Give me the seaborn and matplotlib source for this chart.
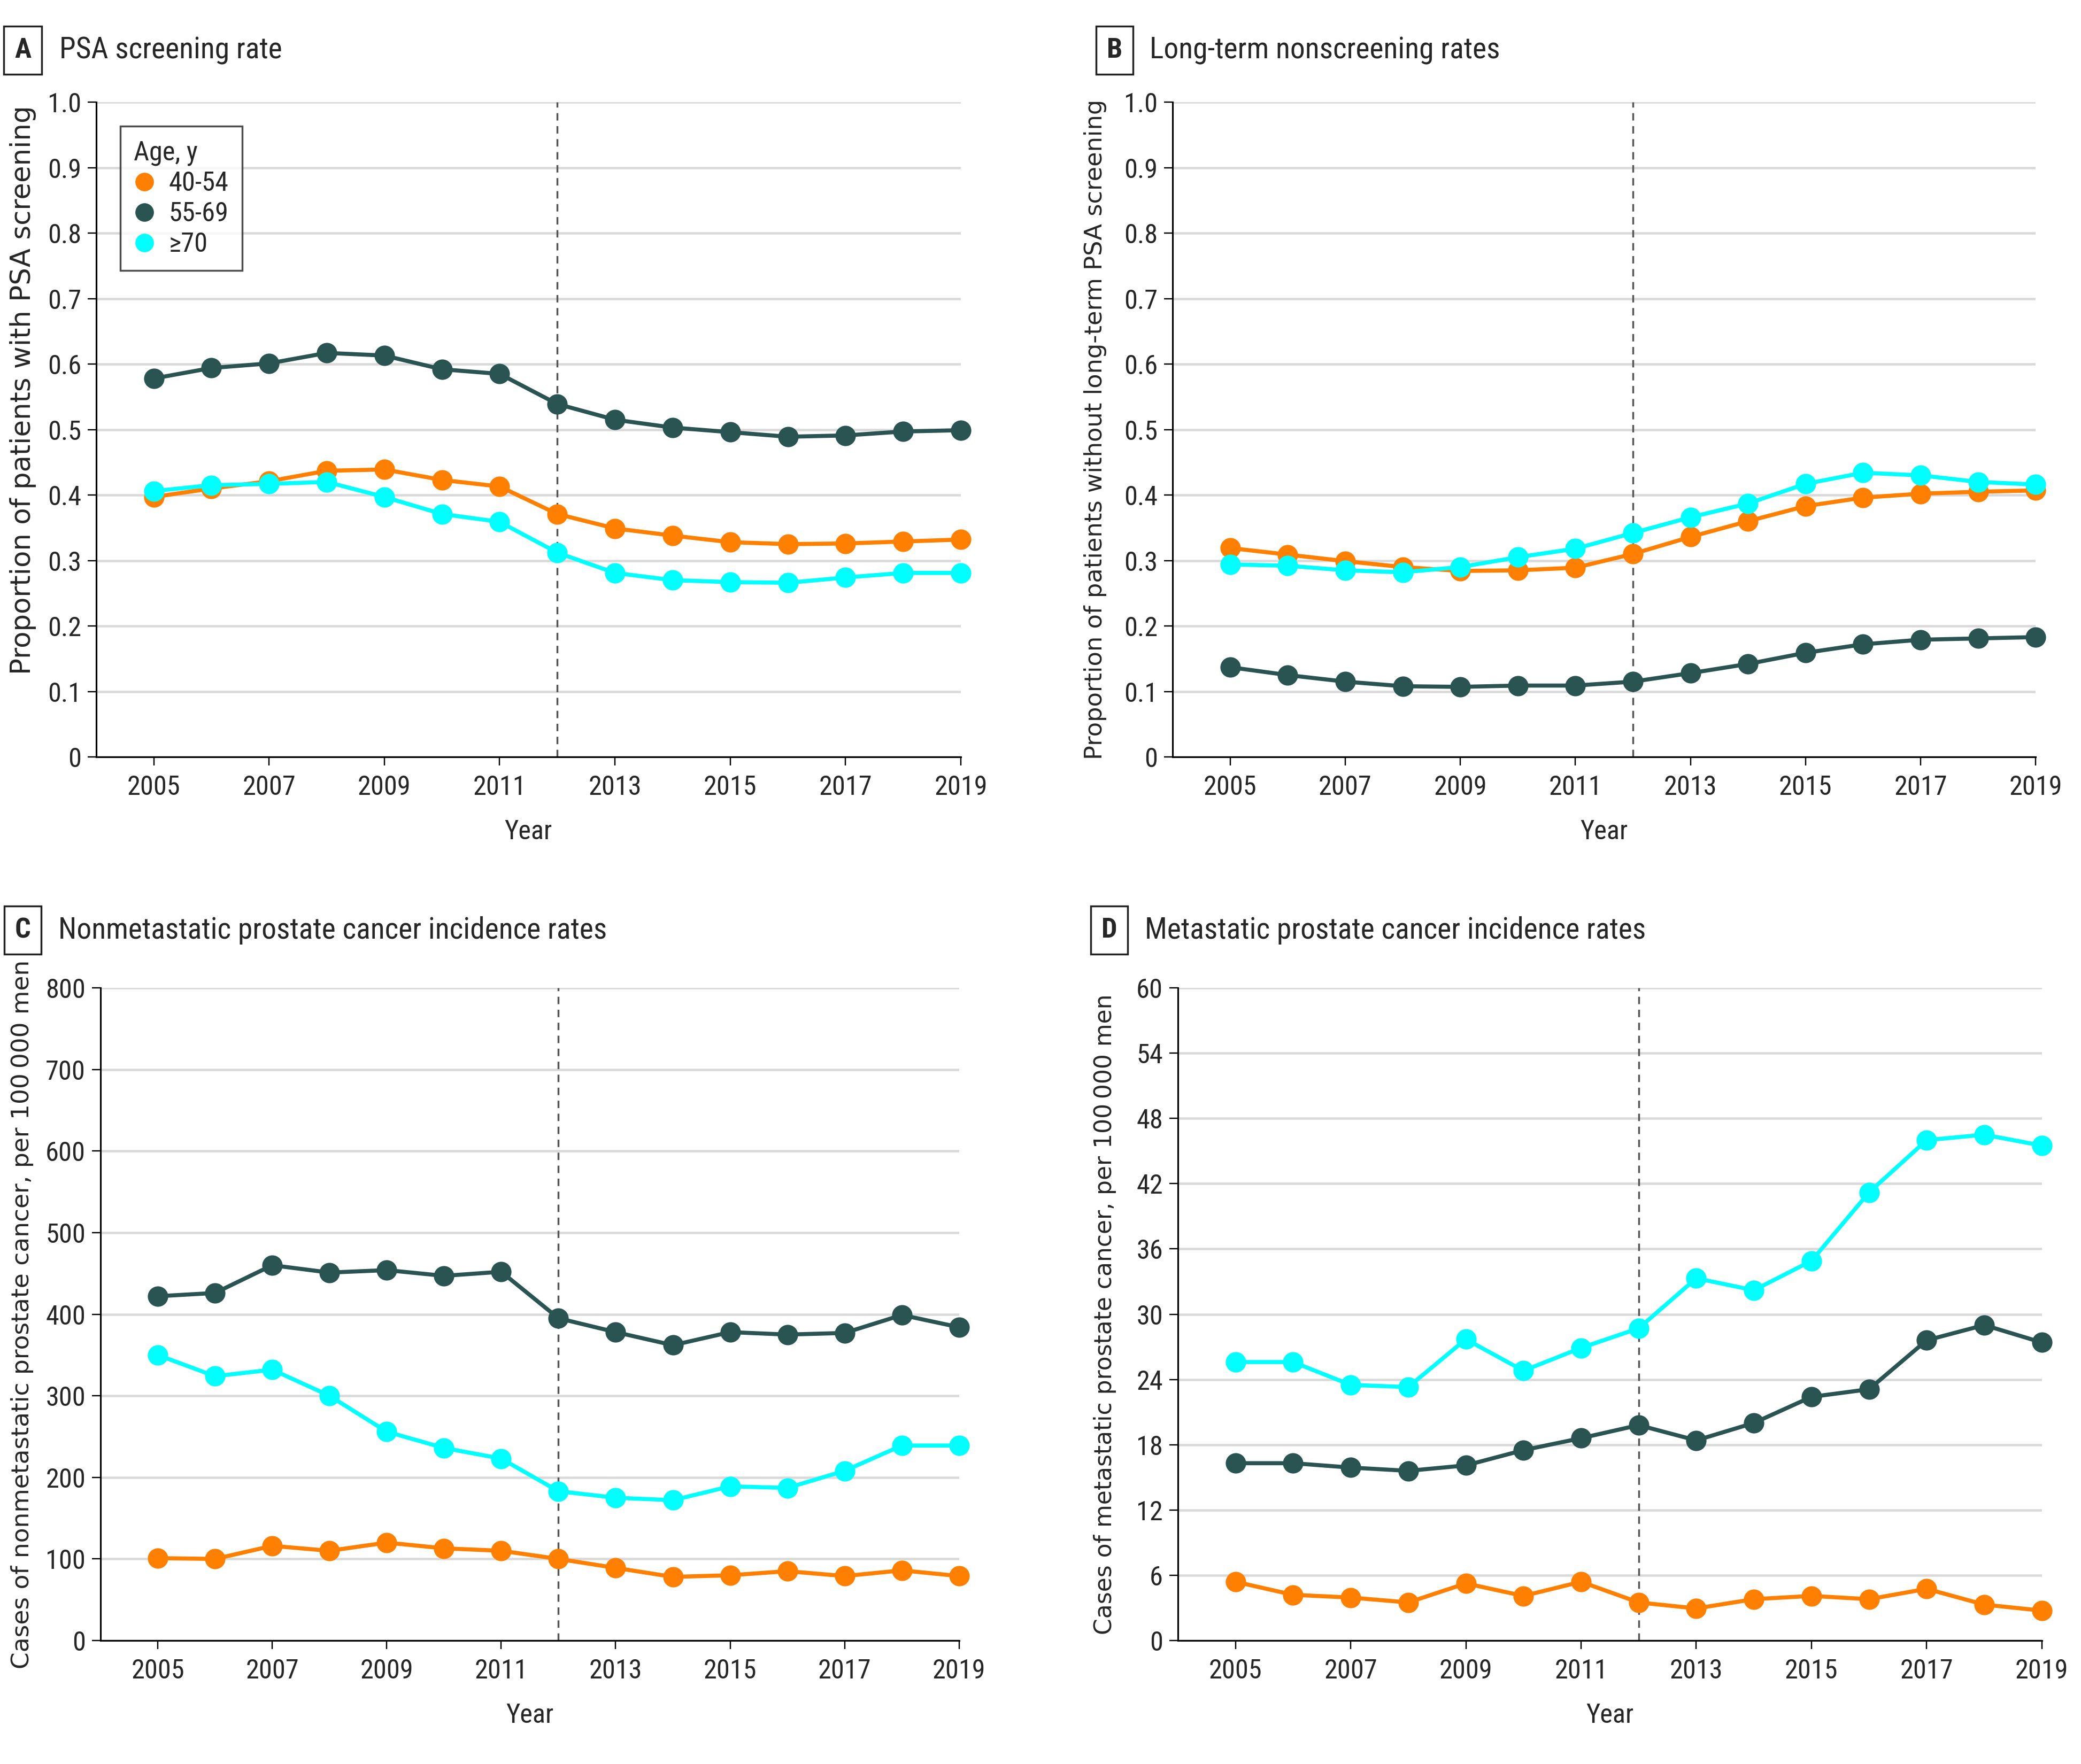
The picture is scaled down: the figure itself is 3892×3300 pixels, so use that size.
import numpy as np
import pandas as pd
import matplotlib
matplotlib.use('Agg')
import matplotlib.pyplot as plt
from matplotlib.lines import Line2D
import seaborn as sns

sns.set_theme(style='white')
plt.rcParams['font.family'] = ['Noto Sans Condensed', 'Roboto Condensed', 'Lato', 'DejaVu Sans']
plt.rcParams['font.stretch'] = 'condensed'

years = list(range(2005, 2020))
ages = ['40-54', '55-69', '≥70']
colors = {'40-54': '#ff8000', '55-69': '#2a5451', '≥70': '#00ffff'}

# A: PSA screening rate
psa_40 = [0.397, 0.410, 0.421, 0.437, 0.439, 0.423, 0.413, 0.371, 0.349, 0.338, 0.328, 0.325, 0.326, 0.329, 0.332]
psa_55 = [0.578, 0.594, 0.601, 0.617, 0.613, 0.592, 0.585, 0.539, 0.515, 0.503, 0.496, 0.489, 0.491, 0.497, 0.499]
psa_70 = [0.406, 0.415, 0.417, 0.420, 0.397, 0.371, 0.359, 0.312, 0.281, 0.270, 0.267, 0.266, 0.274, 0.281, 0.281]

# B: long-term nonscreening
non_40 = [0.319, 0.309, 0.299, 0.290, 0.284, 0.285, 0.289, 0.310, 0.336, 0.360, 0.383, 0.396, 0.402, 0.405, 0.407]
non_55 = [0.137, 0.125, 0.115, 0.108, 0.107, 0.109, 0.109, 0.115, 0.128, 0.142, 0.159, 0.172, 0.179, 0.181, 0.183]
non_70 = [0.294, 0.292, 0.285, 0.282, 0.290, 0.305, 0.318, 0.342, 0.366, 0.387, 0.417, 0.434, 0.430, 0.420, 0.416]

# C: nonmetastatic incidence per 100 000
nm_40 = [101, 100, 116, 110, 120, 113, 110, 100, 89, 78, 80, 85, 79, 86, 79]
nm_55 = [422, 426, 460, 451, 454, 447, 452, 395, 378, 362, 378, 375, 377, 399, 384]
nm_70 = [350, 324, 332, 300, 256, 236, 223, 183, 175, 172, 189, 187, 208, 239, 239]

# D: metastatic incidence per 100 000
m_40 = [5.4, 4.2, 3.95, 3.5, 5.25, 4.1, 5.4, 3.5, 2.95, 3.8, 4.1, 3.8, 4.75, 3.3, 2.75]
m_55 = [16.3, 16.3, 15.9, 15.6, 16.1, 17.5, 18.6, 19.8, 18.4, 20.0, 22.4, 23.1, 27.6, 29.0, 27.4]
m_70 = [25.6, 25.6, 23.5, 23.3, 27.7, 24.8, 26.9, 28.7, 33.3, 32.2, 34.9, 41.2, 46.0, 46.5, 45.5]


def long_df(a, b, c):
    rows = []
    for age, vals in zip(ages, [a, b, c]):
        for y, v in zip(years, vals):
            rows.append({'Year': y, 'value': v, 'age': age})
    return pd.DataFrame(rows)


prop_ticks = np.round(np.arange(0, 1.01, 0.1), 1)
prop_labels = ['0'] + ['%.1f' % v for v in prop_ticks[1:]]

panels = [
    ('A', 'PSA screening rate', long_df(psa_40, psa_55, psa_70),
     'Proportion of patients with PSA screening', prop_ticks, prop_labels, (0, 1.0)),
    ('B', 'Long-term nonscreening rates', long_df(non_40, non_55, non_70),
     'Proportion of patients without long-term PSA screening', prop_ticks, prop_labels, (0, 1.0)),
    ('C', 'Nonmetastatic prostate cancer incidence rates', long_df(nm_40, nm_55, nm_70),
     'Cases of nonmetastatic prostate cancer, per 100\u2009000 men', np.arange(0, 801, 100),
     [str(v) for v in range(0, 801, 100)], (0, 800)),
    ('D', 'Metastatic prostate cancer incidence rates', long_df(m_40, m_55, m_70),
     'Cases of metastatic prostate cancer, per 100\u2009000 men', np.arange(0, 61, 6),
     [str(v) for v in range(0, 61, 6)], (0, 60)),
]

rects = [
    [0.0462, 0.5709, 0.4155, 0.3712],
    [0.5635, 0.5709, 0.4147, 0.3712],
    [0.0483, 0.0700, 0.4126, 0.3700],
    [0.5660, 0.0700, 0.4152, 0.3700],
]
title_pos = [(0.011, 0.0285, 0.9715), (0.5357, 0.5524, 0.9715),
             (0.011, 0.028, 0.4727), (0.533, 0.550, 0.4727)]
ylab_y = [0.56, 0.5, 0.5, 0.5]
ylab_x = [-0.069, -0.076, -0.078, -0.071]
ylab_size = [14.8, 12.9, 13.1, 12.7]

fig = plt.figure(figsize=(15.568, 13.2), dpi=250)

for i, (letter, title, df, ylabel, yt, ytl, ylim) in enumerate(panels):
    ax = fig.add_axes(rects[i])
    ax.yaxis.grid(True, color='#d9d9d9', lw=1.3)
    ax.set_axisbelow(True)
    ax.axvline(2012, color='#555555', lw=1.0, ls=(0, (4, 3)), zorder=1)
    sns.lineplot(data=df, x='Year', y='value', hue='age', palette=colors, marker='o',
                 markersize=11, markeredgewidth=0, linewidth=2.2, legend=False, ax=ax,
                 clip_on=False, zorder=3)
    ax.set_xlim(2004, 2019)
    ax.set_ylim(*ylim)
    ax.set_xticks(range(2005, 2020, 2))
    ax.set_yticks(yt)
    ax.set_yticklabels(ytl)
    for s in ['top', 'right']:
        ax.spines[s].set_visible(False)
    for s in ['left', 'bottom']:
        ax.spines[s].set_color('black')
        ax.spines[s].set_linewidth(0.9)
    ax.tick_params(axis='both', direction='out', length=4.5, width=0.7, color='black',
                   labelsize=14.5, left=True, bottom=True)
    ax.tick_params(axis='x', pad=5)
    ax.tick_params(axis='y', pad=3.5)
    ax.set_xlabel('Year', fontsize=14.5, labelpad=10)
    ax.set_ylabel(ylabel, fontsize=ylab_size[i], family='DejaVu Sans', stretch='normal')
    ax.yaxis.set_label_coords(ylab_x[i], ylab_y[i])

    bx, tx, ty = title_pos[i]
    fig.text(bx, ty, letter, fontsize=15, fontweight='bold', ha='center', va='center',
             bbox=dict(boxstyle='square,pad=0.38', fc='white', ec='#222222', lw=1.0))
    fig.text(tx, ty, title, fontsize=16, ha='left', va='center')

    if i == 0:
        handles = [Line2D([], [], ls='none', marker='o', markersize=10, markeredgewidth=0,
                          color=colors[a]) for a in ages]
        leg = ax.legend(handles, ages, title='Age, y', loc='upper left',
                        bbox_to_anchor=(0.028, 0.963), borderaxespad=0, frameon=True,
                        fancybox=False, edgecolor='#222222', fontsize=14.5,
                        title_fontsize=14.5, handlelength=0.8, handletextpad=0.5,
                        labelspacing=0.18, borderpad=0.5)
        leg.get_frame().set_linewidth(1.0)
        leg._legend_box.align = 'left'

fig.savefig('out.png', dpi=250)
